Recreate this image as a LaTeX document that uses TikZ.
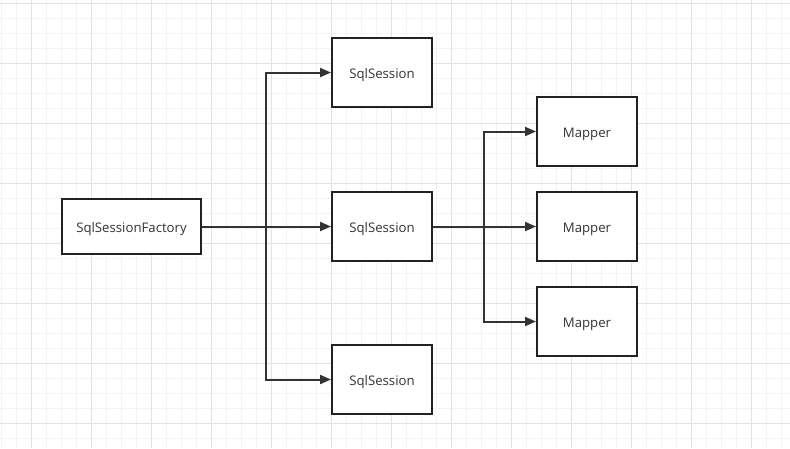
\documentclass[tikz,border=0pt]{standalone}
\usepackage{fontspec}
\setmainfont{Open Sans}
\usetikzlibrary{arrows.meta}
\definecolor{gridminor}{HTML}{F3F3F3}
\definecolor{gridmajor}{HTML}{E3E3E3}
\definecolor{ink}{HTML}{222222}
\definecolor{txt}{HTML}{333333}
\tikzset{
  box/.style={draw=ink, line width=2pt, fill=white, minimum width=100pt, minimum height=69pt,
    inner sep=0pt, text=txt, text height=11pt, text depth=0pt,
    font=\fontsize{13.2}{15}\selectfont},
  arr/.style={draw=txt, line width=2pt, -{Triangle[length=11pt,width=9pt]}},
}
\begin{document}
\begin{tikzpicture}[x=1pt,y=-1pt]
\useasboundingbox (0,0) rectangle (790,448);
\fill[white] (0,0) rectangle (790,448);
% grid
\foreach \x in {1,16,...,790} \draw[gridminor, line width=1pt] (\x,0) -- (\x,448);
\foreach \y in {3,18,...,448} \draw[gridminor, line width=1pt] (0,\y) -- (790,\y);
\foreach \x in {31,91,...,790} \draw[gridmajor, line width=1pt] (\x,0) -- (\x,448);
\foreach \y in {3,63,...,448} \draw[gridmajor, line width=1pt] (0,\y) -- (790,\y);
% nodes
\node[box, minimum width=139pt, minimum height=55pt] (f) at (131.5,226.5) {SqlSessionFactory};
\node[box] (s1) at (382,72.5) {SqlSession};
\node[box] (s2) at (382,226.5) {SqlSession};
\node[box] (s3) at (382,379.5) {SqlSession};
\node[box] (m1) at (587,131.5) {Mapper};
\node[box] (m2) at (587,226.5) {Mapper};
\node[box] (m3) at (587,321.5) {Mapper};
% connectors
\coordinate (j1) at (266,226.5);
\coordinate (j2) at (484,226.5);
\draw[arr] (f.east) -- (s2.west);
\draw[arr] (j1) |- (s1.west);
\draw[arr] (j1) |- (s3.west);
\draw[arr] (s2.east) -- (m2.west);
\draw[arr] (j2) |- (m1.west);
\draw[arr] (j2) |- (m3.west);
\end{tikzpicture}
\end{document}
